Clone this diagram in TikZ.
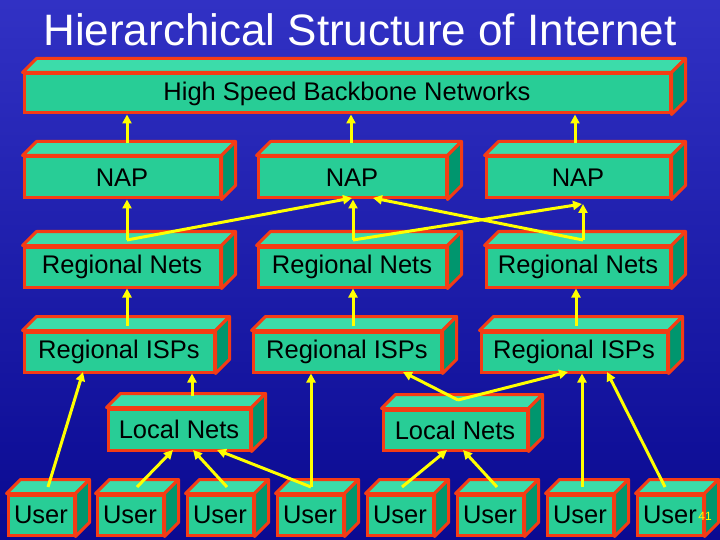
\documentclass[tikz,border=0pt]{standalone}
\usepackage{fontspec}
\setmainfont{Liberation Sans}
\usetikzlibrary{calc,arrows.meta}
\definecolor{face}{RGB}{40,205,150}
\definecolor{topc}{RGB}{60,220,170}
\definecolor{sidec}{RGB}{0,150,110}
\definecolor{edge}{RGB}{245,60,20}
\definecolor{bgA}{RGB}{60,60,210}
\definecolor{bgB}{RGB}{10,10,145}
\definecolor{arr}{RGB}{255,255,0}
\tikzset{
 boxface/.style={draw=edge,fill=face,line width=3pt,inner sep=0pt,font=\fontsize{25.5}{28}\selectfont,text=black},
 topface/.style={draw=edge,fill=topc,line width=3pt,line join=round},
 sideface/.style={draw=edge,fill=sidec,line width=3pt,line join=round},
 link/.style={draw=arr,line width=3pt,-{Triangle[length=9pt,width=9pt]}}
}
\newcommand\mybox[6]{%
 \node[boxface,minimum width={(#4-#2)*1pt},minimum height={(#5-#3)*1pt}] (#1) at ({(#2+#4)/2},{(#3+#5)/2}) {#6};
 \draw[topface] (#1.north west) -- ++(14,-14) -- ($(#1.north east)+(14,-14)$) -- (#1.north east) -- cycle;
 \draw[sideface] (#1.north east) -- ++(14,-14) -- ($(#1.south east)+(14,-14)$) -- (#1.south east) -- cycle;
}
\begin{document}
\begin{tikzpicture}[x=1pt,y=-1pt]
\shade[left color=bgA,right color=bgB,shading angle=0] (0,0) rectangle (720,540);
\shade[top color=bgA!60!bgB,bottom color=bgB,opacity=0.5] (0,0) rectangle (720,540);
\useasboundingbox (0,0) rectangle (720,540);
\node[text=white,font=\fontsize{44}{50}\selectfont] (title) at (360,30) {Hierarchical Structure of Internet};
\mybox{bb}{24}{74}{670}{113}{High Speed Backbone Networks}
\mybox{napA}{24}{157}{220}{198}{NAP}
\mybox{napB}{258}{157}{446}{198}{NAP}
\mybox{napC}{486}{157}{670}{198}{NAP}
\mybox{rnA}{24}{247}{220}{287}{Regional Nets}
\mybox{rnB}{258}{247}{446}{287}{Regional Nets}
\mybox{rnC}{486}{247}{670}{287}{Regional Nets}
\mybox{isA}{24}{332}{214}{372}{Regional ISPs}
\mybox{isB}{253}{332}{441}{372}{Regional ISPs}
\mybox{isC}{481}{332}{667}{372}{Regional ISPs}
\mybox{lnA}{108}{409}{250}{450}{Local Nets}
\mybox{lnB}{383}{410}{527}{450}{Local Nets}
\foreach \i/\x in {1/8,2/97,3/187,4/277,5/367,6/457,7/547,8/637}{
 \mybox{u\i}{\x}{495}{\x+66}{535}{User}
}
\coordinate (tA) at (127,143); \coordinate (tB) at (351,143); \coordinate (tC) at (575,143);
\coordinate (rA) at (127,240); \coordinate (rB) at (353,240); \coordinate (rC) at (583,240);
\coordinate (iA) at (127,326); \coordinate (iB) at (353,326); \coordinate (iC) at (576,326);
\coordinate (lA) at (192,396); \coordinate (lB) at (458,400);
\foreach \i/\x in {1/48,2/137,3/227,4/311,5/402,6/497,7/582,8/665}{
 \coordinate (p\i) at (\x,487);
}
\draw[link] (tA) -- (tA |- bb.south);
\draw[link] (tB) -- (tB |- bb.south);
\draw[link] (tC) -- (tC |- bb.south);
\draw[link] (rA) -- (rA |- napA.south);
\draw[link] (rA) -- (352,198);
\draw[link] (rB) -- (rB |- napB.south);
\draw[link] (rB) -- (582,204);
\draw[link] (rC) -- (583,204);
\draw[link] (rC) -- (373,198);
\draw[link] (iA) -- (iA |- rnA.south);
\draw[link] (iB) -- (iB |- rnB.south);
\draw[link] (iC) -- (iC |- rnC.south);
\draw[link] (lA) -- (lA |- isA.south);
\draw[link] (lB) -- (403,372);
\draw[link] (lB) -- (568,372);
\draw[link] (p1) -- (83,372);
\draw[link] (p2) -- (173,450);
\draw[link] (p3) -- (193,450);
\draw[link] (p4) -- (217,450);
\draw[link] (p4) -- (p4 |- isB.south);
\draw[link] (p5) -- (447,450);
\draw[link] (p6) -- (463,450);
\draw[link] (p7) -- (p7 |- isC.south);
\draw[link] (p8) -- (607,372);
\node[text=arr,font=\fontsize{12}{14}\selectfont] (pg) at (705,516) {41};
\end{tikzpicture}
\end{document}
